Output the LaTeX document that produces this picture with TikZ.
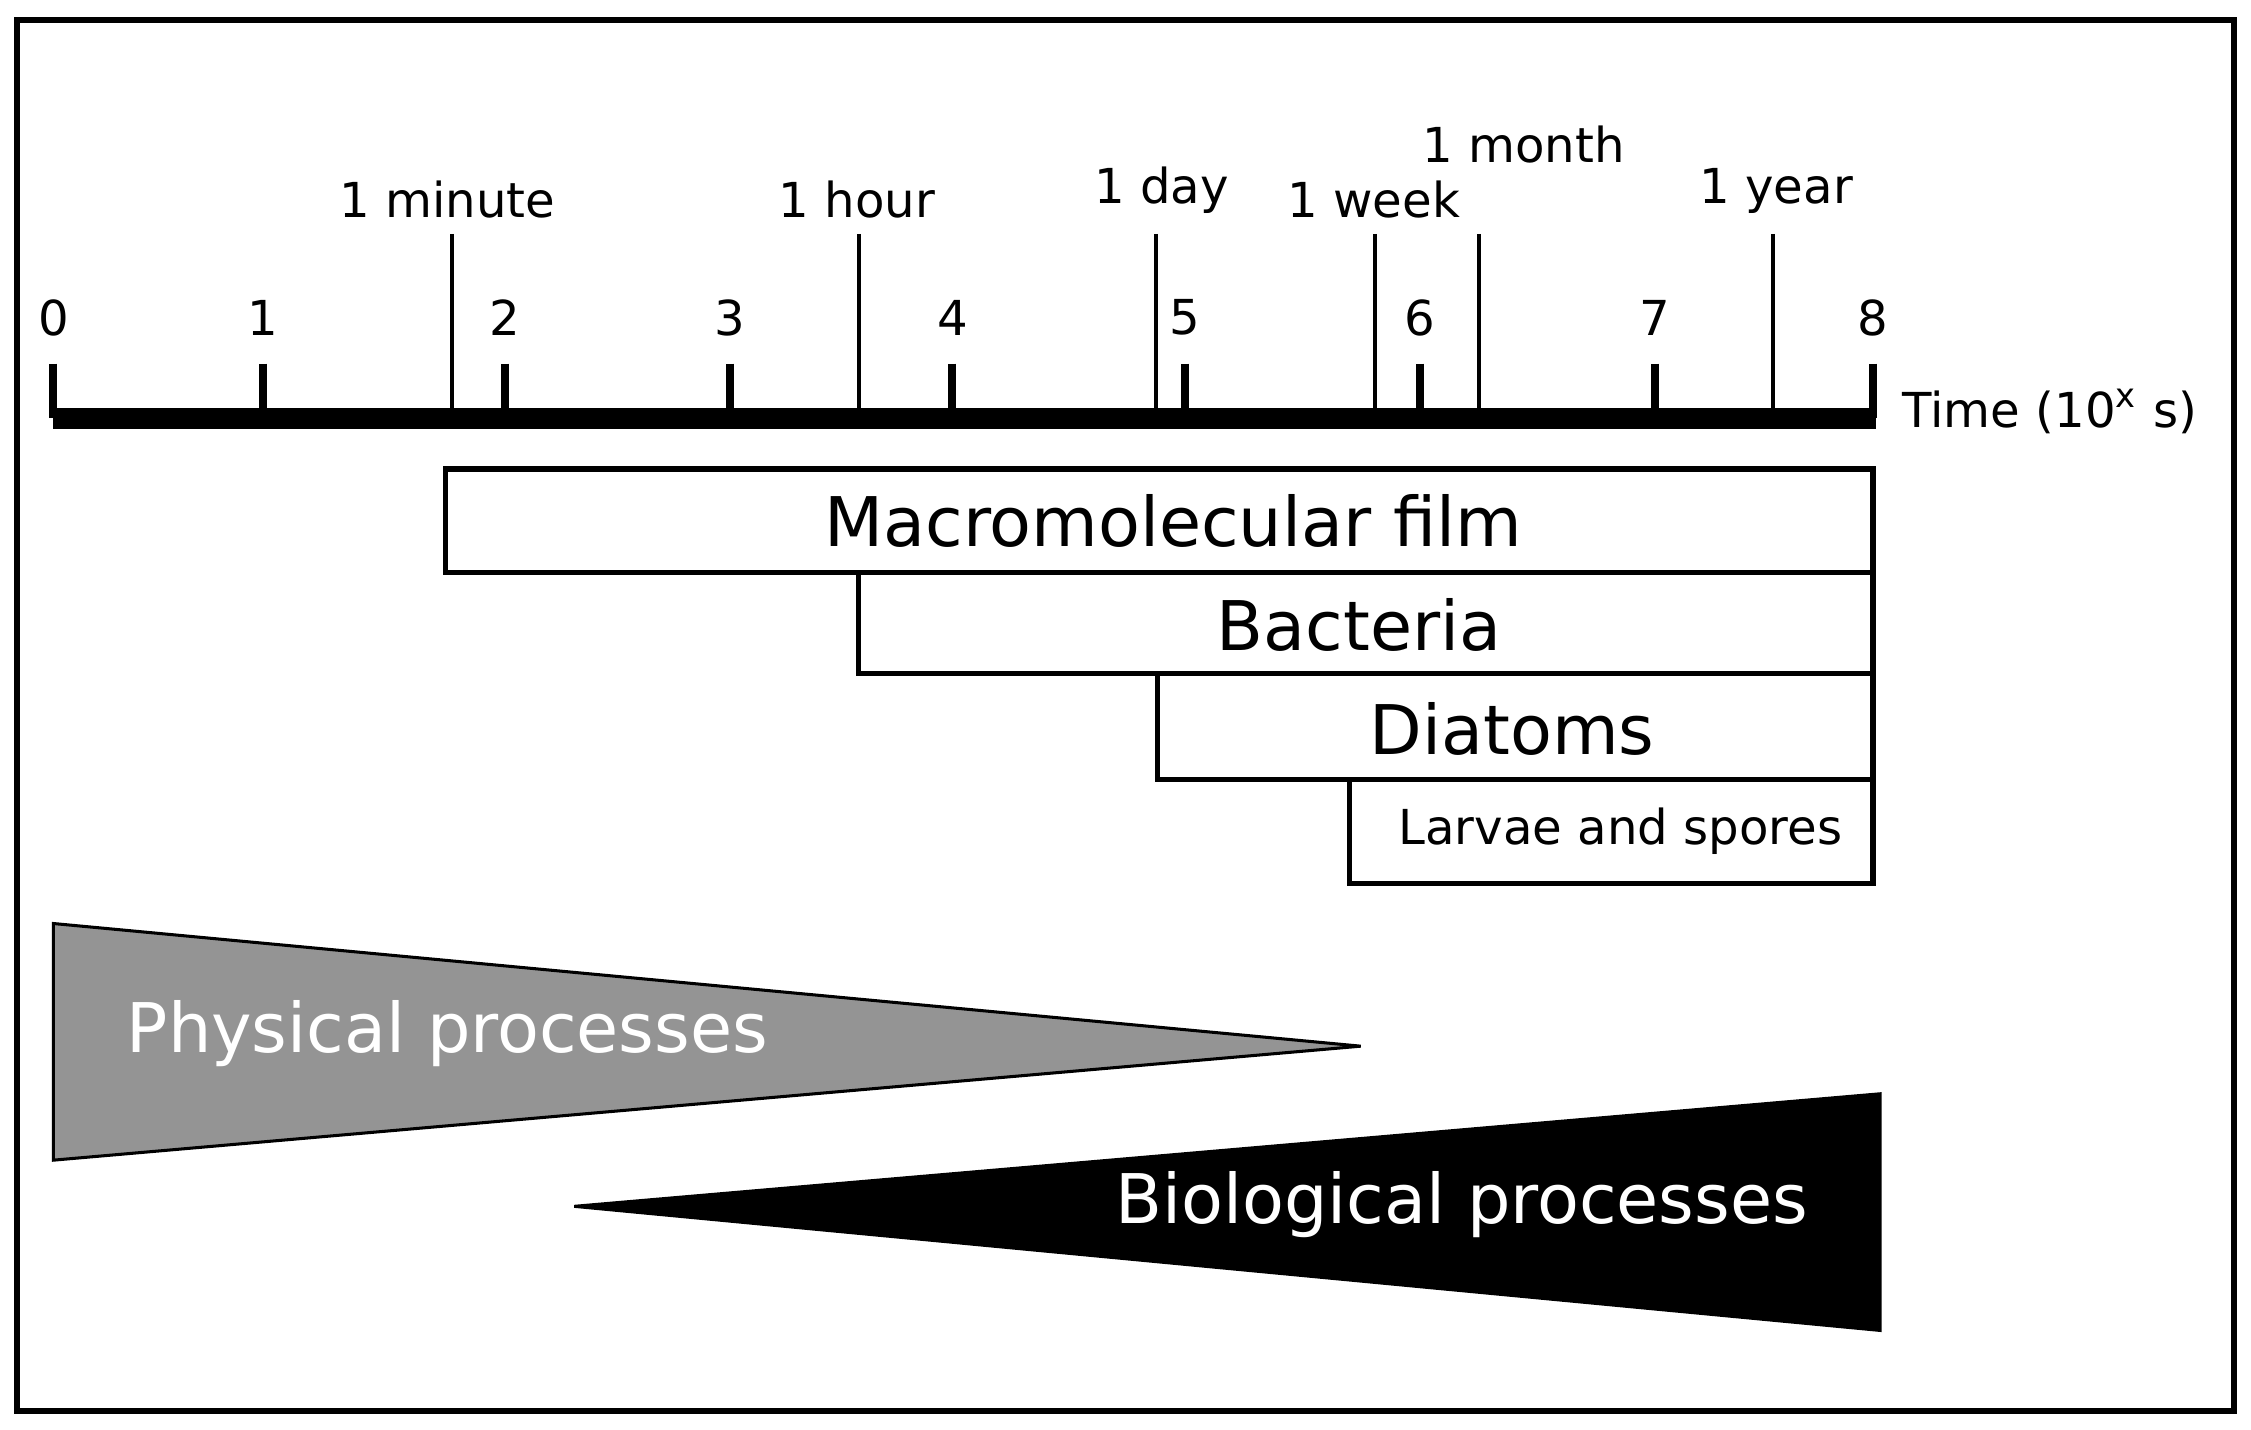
\documentclass[tikz,border=0pt]{standalone}
\usepackage{fontspec}
\setmainfont{DejaVu Sans}
\begin{document}
\begin{tikzpicture}[x=0.1mm,y=-0.1mm,
  tick/.style={line width=1.6pt},
  tmark/.style={line width=0.8pt},
  lab/.style={font=\fontsize{9.5}{11}\selectfont},
  box/.style={draw,line width=1pt,fill=white},
  big/.style={font=\fontsize{13.5}{16}\selectfont}]
\useasboundingbox (0,0) rectangle (1560,991);
\draw[line width=1.2pt] (12,14) rectangle (1548,978);
% axis
\fill (37,283) rectangle (1300,297);
\foreach \x/\n in {37/0,182/1,350/2,506/3,660/4,821/5,984/6,1147/7,1298/8}{
  \draw[tick] (\x,252) -- (\x,290);
  \node[lab] (t\n) at (\x,220) {\n};
}
\foreach \x in {313,595,801,953,1025,1229}{
  \draw[tmark] (\x,162) -- (\x,290);
}
\node[lab] (mi) at (310,138) {1 minute};
\node[lab] (ho) at (594,138) {1 hour};
\node[lab] (da) at (805,132) {1 day};
\node[lab] (we) at (952,138) {1 week};
\node[lab] (mo) at (1056,100) {1 month};
\node[lab] (ye) at (1231,132) {1 year};
\node[lab,anchor=west] (time) at (1306,285) {Time (10\textsuperscript{x} s)};
% boxes
\draw[box] (309,325) rectangle (1298,397);
\node[big] (mf) at (813,361) {Macromolecular film};
\draw[box] (595,397) rectangle (1298,467);
\node[big] (ba) at (942,433) {Bacteria};
\draw[box] (802,467) rectangle (1298,540);
\node[big] (di) at (1048,505) {Diatoms};
\draw[box] (935,540) rectangle (1298,612);
\node[lab] (la) at (1123,576) {Larvae and spores};
% triangles
\filldraw[fill=black!42,draw=black,line width=0.6pt] (37,640) -- (943,725) -- (37,804) -- cycle;
\node[big,text=white] (ph) at (310,716) {Physical processes};
\filldraw[fill=black,draw=black,line width=0.6pt] (1303,758) -- (1303,922) -- (398,836) -- cycle;
\node[big,text=white] (bi) at (1013,835) {Biological processes};
\end{tikzpicture}
\end{document}
